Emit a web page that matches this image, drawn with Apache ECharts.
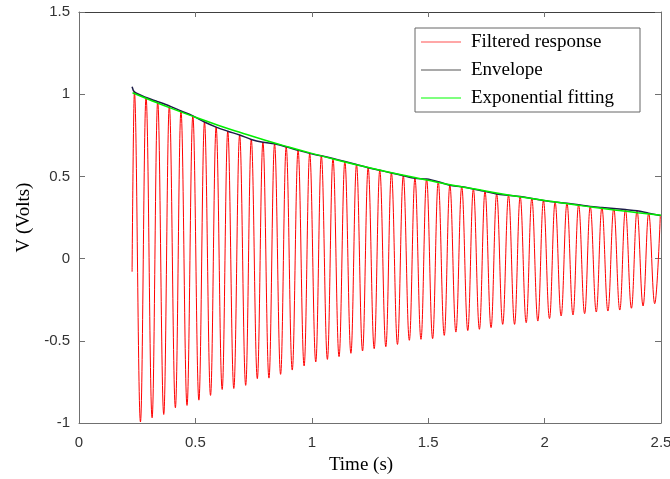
<!DOCTYPE html>
<html>
<head>
<meta charset="utf-8">
<script src="https://cdn.jsdelivr.net/npm/echarts@6/dist/echarts.min.js"></script>
<style>
html,body{margin:0;padding:0;background:#fff;}
#c{width:670px;height:479px;}
</style>
</head>
<body>
<div id="c"></div>
<script>
// Filtered response: start point, peaks and troughs (time s, volts)
var startT = 0.228, startV = -0.08;
var peakT = [0.238,0.288,0.338,0.388,0.438,0.489,0.539,0.589,0.639,0.690,0.740,0.790,0.840,0.890,0.941,0.991,1.041,1.091,1.142,1.192,1.242,1.292,1.342,1.393,1.443,1.493,1.543,1.593,1.644,1.694,1.744,1.794,1.845,1.895,1.945,1.995,2.045,2.096,2.146,2.196,2.246,2.297,2.347,2.397,2.447,2.497];
var peakV = [1.014,0.980,0.955,0.929,0.898,0.868,0.831,0.800,0.775,0.752,0.725,0.708,0.698,0.680,0.659,0.640,0.625,0.609,0.591,0.572,0.553,0.537,0.521,0.504,0.488,0.484,0.468,0.446,0.437,0.424,0.409,0.393,0.385,0.378,0.366,0.353,0.344,0.336,0.327,0.317,0.311,0.305,0.298,0.291,0.276,0.262];
var troughT = [0.264,0.314,0.364,0.414,0.464,0.515,0.565,0.615,0.665,0.716,0.766,0.816,0.866,0.916,0.967,1.017,1.067,1.117,1.168,1.218,1.268,1.318,1.368,1.419,1.469,1.519,1.569,1.619,1.670,1.720,1.770,1.820,1.871,1.921,1.971,2.021,2.071,2.122,2.172,2.222,2.272,2.323,2.373,2.423,2.473];
var troughV = [-0.994,-0.968,-0.948,-0.907,-0.893,-0.861,-0.832,-0.796,-0.790,-0.771,-0.730,-0.727,-0.704,-0.678,-0.653,-0.629,-0.613,-0.596,-0.576,-0.562,-0.548,-0.536,-0.522,-0.497,-0.491,-0.487,-0.467,-0.447,-0.438,-0.430,-0.420,-0.400,-0.400,-0.390,-0.380,-0.365,-0.349,-0.343,-0.335,-0.325,-0.319,-0.313,-0.302,-0.288,-0.274];
// Envelope start
var envStartT = 0.228, envStartV = 1.045;
// Exponential fitting
var fitT = [0.23,0.3,0.4,0.5,0.6,0.7,0.8,0.9,1.0,1.1,1.2,1.3,1.4,1.5,1.6,1.7,1.8,1.9,2.0,2.1,2.2,2.3,2.4,2.5];
var fitV = [1.009,0.968,0.912,0.860,0.810,0.764,0.720,0.679,0.640,0.603,0.568,0.536,0.505,0.476,0.448,0.423,0.398,0.375,0.354,0.333,0.314,0.296,0.279,0.263];
var seriesNames = ['Filtered response','Envelope','Exponential fitting'];
var xAxisTitle = 'Time (s)', yAxisTitle = 'V (Volts)';

var redData = [[startT, startV]];
for (var i = 0; i < peakT.length; i++) {
  redData.push([peakT[i], peakV[i]]);
  if (i < troughT.length) redData.push([troughT[i], troughV[i]]);
}
var envData = [[envStartT, envStartV]];
for (var j = 0; j < peakT.length; j++) envData.push([peakT[j], peakV[j]]);
var fitData = fitT.map(function(t, k){ return [t, fitV[k]]; });

var axisCol = '#707070';
var serif = 'Liberation Serif, Times New Roman, serif';
var labelStyle = {color:'#333', fontFamily:'Liberation Sans, Arial, sans-serif', fontSize:15};
var chart = echarts.init(document.getElementById('c'), null, {renderer:'canvas'});
chart.setOption({
  animation:false,
  backgroundColor:'#fff',
  grid:{left:79, right:9, top:12, bottom:56, containLabel:false, outerBoundsMode:'none'},
  legend:{
    orient:'vertical', left:415, top:28,
    data:seriesNames,
    icon:'rect', itemWidth:40, itemHeight:1.2, itemGap:8,
    padding:[4,26,4,6],
    backgroundColor:'#fff', borderColor:'#666', borderWidth:1,
    textStyle:{fontFamily:serif, fontSize:19, lineHeight:20, color:'#000', padding:[0,0,0,5]}
  },
  xAxis:[{
    type:'value', min:0, max:2.5, interval:0.5,
    name:xAxisTitle, nameLocation:'middle', nameGap:33,
    nameTextStyle:{fontFamily:serif, fontSize:19, color:'#000', padding:[0,18,0,0]},
    axisLine:{show:true, onZero:false, lineStyle:{color:axisCol}},
    axisTick:{show:true, inside:true, length:5, lineStyle:{color:axisCol}},
    axisLabel:Object.assign({margin:12}, labelStyle),
    splitLine:{show:false}
  },{
    type:'value', min:0, max:2.5, interval:0.5, position:'top',
    axisLine:{show:true, onZero:false, lineStyle:{color:'#404040'}},
    axisTick:{show:true, inside:true, length:5, lineStyle:{color:axisCol}},
    axisLabel:{show:false}, splitLine:{show:false}
  }],
  yAxis:[{
    type:'value', min:-1, max:1.5, interval:0.5,
    name:yAxisTitle, nameLocation:'middle', nameGap:44, nameRotate:90,
    nameTextStyle:{fontFamily:serif, fontSize:19, color:'#000'},
    axisLine:{show:true, onZero:false, lineStyle:{color:axisCol}},
    axisTick:{show:true, inside:true, length:6, lineStyle:{color:axisCol}},
    axisLabel:Object.assign({margin:9}, labelStyle),
    splitLine:{show:false}
  },{
    type:'value', min:-1, max:1.5, interval:0.5, position:'right',
    axisLine:{show:true, onZero:false, lineStyle:{color:axisCol}},
    axisTick:{show:true, inside:true, length:6, lineStyle:{color:axisCol}},
    axisLabel:{show:false}, splitLine:{show:false}
  }],
  series:[{
    name:seriesNames[0], type:'line', data:redData, showSymbol:false, symbol:'none',
    smooth:0.4, smoothMonotone:'x', clip:true,
    lineStyle:{color:'#ff0000', width:1}, itemStyle:{color:'#ff5050'}, z:2
  },{
    name:seriesNames[1], type:'line', data:envData, showSymbol:false, symbol:'none',
    smooth:0.3,
    lineStyle:{color:'#1c1c48', width:1.5}, itemStyle:{color:'#555'}, z:3
  },{
    name:seriesNames[2], type:'line', data:fitData, showSymbol:false, symbol:'none',
    smooth:true,
    lineStyle:{color:'#00ee00', width:1.5}, itemStyle:{color:'#00ff00'}, z:4
  }]
});
</script>
</body>
</html>
